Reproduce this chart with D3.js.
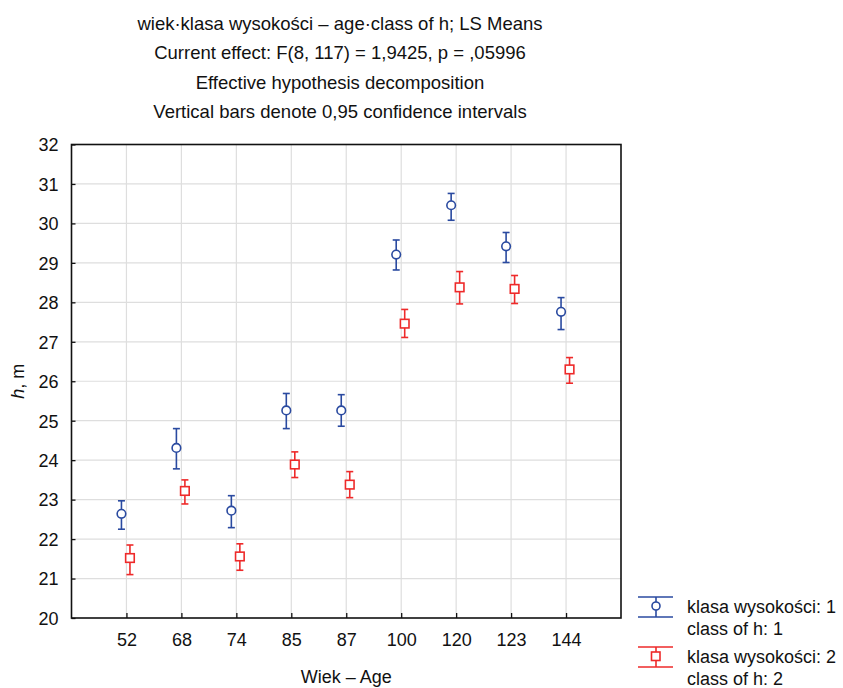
<!DOCTYPE html>
<html><head><meta charset="utf-8">
<script src="https://cdn.jsdelivr.net/npm/d3@7"></script>
<style>
body{margin:0;background:#fff;}
svg{display:block;font-family:"Liberation Sans",Arial,sans-serif;}
</style></head>
<body><svg id="c" width="843" height="688"></svg>
<script>
const ages = ["52","68","74","85","87","100","120","123","144"];
const class1Mean = [22.64, 24.31, 22.72, 25.26, 25.26, 29.21, 30.46, 29.42, 27.76];
const class1Low  = [22.25, 23.78, 22.29, 24.80, 24.86, 28.82, 30.08, 29.01, 27.31];
const class1High = [22.97, 24.80, 23.10, 25.69, 25.66, 29.58, 30.76, 29.77, 28.12];
const class2Mean = [21.52, 23.22, 21.56, 23.89, 23.38, 27.46, 28.38, 28.34, 26.30];
const class2Low  = [21.10, 22.89, 21.21, 23.56, 23.05, 27.11, 27.96, 27.97, 25.95];
const class2High = [21.85, 23.50, 21.88, 24.21, 23.71, 27.82, 28.78, 28.68, 26.60];
const yTicks = [20,21,22,23,24,25,26,27,28,29,30,31,32];
const titleLines = ["wiek\u00B7klasa wysoko\u015Bci \u2013 age\u00B7class of h; LS Means",
  "Current effect: F(8, 117) = 1,9425, p = ,05996",
  "Effective hypothesis decomposition",
  "Vertical bars denote 0,95 confidence intervals"];
const legendLabels = [["klasa wysoko\u015Bci: 1","class of h: 1"],["klasa wysoko\u015Bci: 2","class of h: 2"]];

const BLUE = "#2a4aa0", RED = "#ee2a2a", GRID = "#dedede", INK = "#111";
const L = 71.5, R = 621, T = 144.5, B = 618;
const svg = d3.select("#c");
const x = d3.scalePoint().domain(ages).range([L, R]).padding(1);
const y = d3.scaleLinear().domain([20, 32]).range([B, T]);

// title
svg.append("g").selectAll("text").data(titleLines).join("text")
  .attr("x", 340).attr("y", (d,i) => 30 + i*29.4)
  .attr("text-anchor","middle").attr("font-size",18.5).attr("fill",INK).text(d => d);

// grid
const g = svg.append("g");
g.selectAll(".hg").data(yTicks.slice(1,-1)).join("line")
  .attr("x1", L).attr("x2", R).attr("y1", d => y(d)).attr("y2", d => y(d))
  .attr("stroke", GRID).attr("stroke-width", 1.2);
g.selectAll(".vg").data(ages).join("line")
  .attr("x1", d => x(d)).attr("x2", d => x(d)).attr("y1", T).attr("y2", B)
  .attr("stroke", GRID).attr("stroke-width", 1.2);

// axes
const yAxis = d3.axisLeft(y).tickValues(yTicks).tickSizeInner(-4).tickSizeOuter(0).tickPadding(13);
const ya = svg.append("g").attr("transform", `translate(${L},0)`).call(yAxis);
const xAxis = d3.axisBottom(x).tickSizeInner(-5).tickSizeOuter(0).tickPadding(15);
const xa = svg.append("g").attr("transform", `translate(0,${B})`).call(xAxis);
[ya, xa].forEach(a => {
  a.select(".domain").remove();
  a.selectAll("line").attr("stroke",INK).attr("stroke-width",1.3);
  a.selectAll("text").attr("font-size",18).attr("fill",INK)
   .attr("font-family","'Liberation Sans',Arial,sans-serif");
});
ya.selectAll("text").attr("dy","0.35em");
// frame
svg.append("rect").attr("x", L).attr("y", T).attr("width", R-L).attr("height", B-T)
  .attr("fill","none").attr("stroke",INK).attr("stroke-width",1.6);

// axis titles
svg.append("text").attr("x", (L+R)/2).attr("y", 683).attr("text-anchor","middle")
  .attr("font-size",18).attr("fill",INK).text("Wiek \u2013 Age");
const yt = svg.append("text").attr("transform", `translate(24,${(T+B)/2}) rotate(-90)`)
  .attr("text-anchor","middle").attr("font-size",18).attr("fill",INK);
yt.append("tspan").attr("font-style","italic").text("h");
yt.append("tspan").text(", m");

// series
function drawSeries(mean, lo, hi, color, dx, shape) {
  const sg = svg.append("g");
  const data = ages.map((a,i) => ({a, m: mean[i], l: lo[i], h: hi[i]}));
  const cx = d => x(d.a) + dx;
  sg.selectAll(".eb").data(data).join("line")
    .attr("x1", cx).attr("x2", cx).attr("y1", d => y(d.l)).attr("y2", d => y(d.h))
    .attr("stroke", color).attr("stroke-width", 1.6);
  ["l","h"].forEach(k => {
    sg.selectAll(".cap"+k).data(data).join("line")
      .attr("x1", d => cx(d)-3.5).attr("x2", d => cx(d)+3.5)
      .attr("y1", d => y(d[k])).attr("y2", d => y(d[k]))
      .attr("stroke", color).attr("stroke-width", 1.6);
  });
  if (shape === "circle") {
    sg.selectAll(".mk").data(data).join("circle")
      .attr("cx", cx).attr("cy", d => y(d.m)).attr("r", 4.3)
      .attr("fill","#fff").attr("stroke", color).attr("stroke-width", 1.6);
  } else {
    sg.selectAll(".mk").data(data).join("rect")
      .attr("x", d => cx(d)-4.3).attr("y", d => y(d.m)-4.3).attr("width", 8.6).attr("height", 8.6)
      .attr("fill","#fff").attr("stroke", color).attr("stroke-width", 1.6);
  }
}
drawSeries(class1Mean, class1Low, class1High, BLUE, -5, "circle");
drawSeries(class2Mean, class2Low, class2High, RED, 3.5, "square");

// legend
const lg = svg.append("g");
const legendItems = [{c: BLUE, s:"circle", y0: 597, lab: legendLabels[0]}, {c: RED, s:"square", y0: 647, lab: legendLabels[1]}];
legendItems.forEach(it => {
  const cx = 656, top = it.y0, bot = it.y0 + 20, mid = it.y0 + 9;
  lg.append("line").attr("x1", cx).attr("x2", cx).attr("y1", top).attr("y2", bot).attr("stroke", it.c).attr("stroke-width",1.6);
  [top, bot].forEach(yy => lg.append("line").attr("x1", 638).attr("x2", 673).attr("y1", yy).attr("y2", yy).attr("stroke", it.c).attr("stroke-width",1.6));
  if (it.s === "circle") lg.append("circle").attr("cx", cx).attr("cy", mid).attr("r", 4).attr("fill","#fff").attr("stroke", it.c).attr("stroke-width",1.6);
  else lg.append("rect").attr("x", cx-4.5).attr("y", mid-4).attr("width", 8.5).attr("height", 8.5).attr("fill","#fff").attr("stroke", it.c).attr("stroke-width",1.6);
  it.lab.forEach((t,j) => lg.append("text").attr("x", 687).attr("y", it.y0 + 16 + j*21.5)
    .attr("font-size",18).attr("fill",INK).text(t));
});
</script></body></html>
